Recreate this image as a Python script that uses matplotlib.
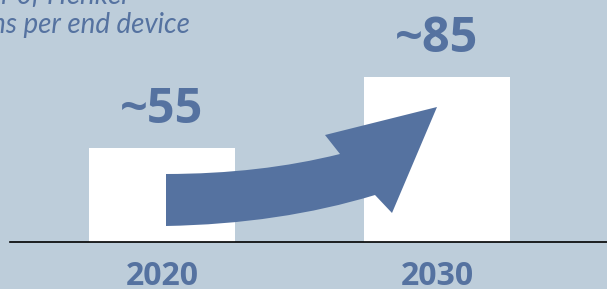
import matplotlib
matplotlib.use("Agg")
import matplotlib.pyplot as plt
from matplotlib.path import Path
from matplotlib.patches import PathPatch
from matplotlib.transforms import Affine2D

years = ["2020", "2030"]
values = [55, 85]
value_labels = ["~55", "~85"]
title_lines = ["Number of Henkel", "solutions per end device"]

bg = "#BDCDDA"
blue = "#5572A0"
W, H = 607, 289

plt.rcParams['font.family'] = ['Open Sans', 'DejaVu Sans']
fig = plt.figure(figsize=(W / 100, H / 100), dpi=100, facecolor=bg)
ax = fig.add_axes([10 / W, 47 / H, 597 / W, 242 / H])
ax.set_facecolor(bg)

x = range(len(years))
ax.bar(x, values, width=0.531, color="white", zorder=2)
ax.set_xlim(-0.5527, 1.618)
ax.set_ylim(15.3, 117.5)
for i, v in enumerate(values):
    ax.text(i, v + 5.6, value_labels[i], ha="center", va="bottom",
            fontsize=35, fontweight="bold", color=blue)
    ax.text(i, 15.3 - 7.6, years[i], ha="center", va="top",
            fontsize=23, fontweight="bold", color=blue, clip_on=False)

for s in ["top", "right", "left"]:
    ax.spines[s].set_visible(False)
ax.spines["bottom"].set_color("black")
ax.spines["bottom"].set_linewidth(1.2)
ax.set_xticks([])
ax.set_yticks([])

# curved arrow, drawn in figure pixel coordinates
verts = [(166, 174), (260, 174), (340, 154), (325, 135), (437, 107),
         (392, 213), (375, 195), (280, 224), (166, 226), (166, 174)]
codes = [Path.MOVETO, Path.CURVE3, Path.CURVE3, Path.LINETO, Path.LINETO,
         Path.LINETO, Path.LINETO, Path.CURVE3, Path.CURVE3, Path.CLOSEPOLY]
px = Affine2D().scale(1 / W, -1 / H).translate(0, 1) + fig.transFigure
fig.patches.append(PathPatch(Path(verts, codes), facecolor=blue,
                             edgecolor="none", transform=px, zorder=5))

fig.text(127 / W, 1 - 4 / H, title_lines[0], ha="right", va="baseline",
         fontsize=20, style="italic", color=blue, family=["Lato", "DejaVu Sans"])
fig.text(190 / W, 1 - 33 / H, title_lines[1], ha="right", va="baseline",
         fontsize=20, style="italic", color=blue, family=["Lato", "DejaVu Sans"])

fig.savefig("out.png", dpi=100, facecolor=bg)
